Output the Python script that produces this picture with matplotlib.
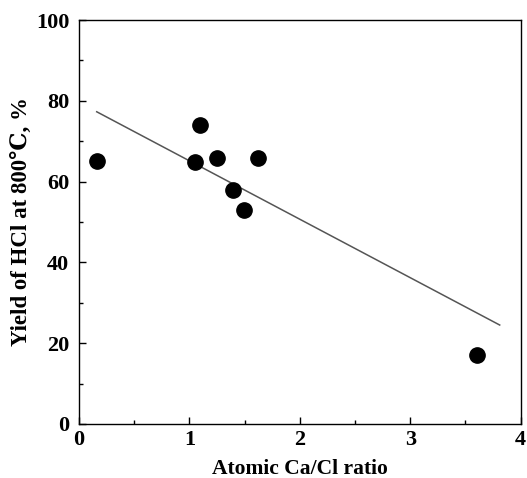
import numpy as np
import matplotlib.pyplot as plt

# data
ca_cl_ratio = [0.16, 1.05, 1.10, 1.25, 1.39, 1.49, 1.62, 3.60]
hcl_yield = [65.0, 64.8, 74.0, 65.9, 58.0, 53.0, 65.9, 17.0]

# fitted trend line end points
fit_x = [0.16, 3.81]
fit_y = [77.3, 24.5]

plt.rcParams['font.family'] = ['Liberation Serif', 'DejaVu Serif']
plt.rcParams['font.weight'] = 'bold'

fig = plt.figure(figsize=(5.27, 4.78), dpi=100)
ax = fig.add_axes([0.150, 0.113, 0.838, 0.845])

ax.plot(fit_x, fit_y, color='#555555', lw=1.1)
ax.plot(ca_cl_ratio, hcl_yield, 'o', color='black', markersize=11, zorder=3)

ax.set_xlim(0, 4)
ax.set_ylim(0, 100)
ax.set_xticks([0, 1, 2, 3, 4])
ax.set_xticks(np.arange(0, 4, 0.5), minor=True)
ax.set_yticks([0, 20, 40, 60, 80, 100])
ax.set_yticks(np.arange(0, 100, 10), minor=True)
ax.tick_params(which='both', direction='in', top=False, right=False,
               labelsize=16, width=1)
ax.tick_params(axis='y', pad=7)
ax.tick_params(axis='x', pad=4)
ax.tick_params(which='major', length=5)
ax.tick_params(which='minor', length=3)
for s in ax.spines.values():
    s.set_linewidth(1)

ax.set_xlabel('Atomic Ca/Cl ratio', fontsize=15.5, fontweight='bold', labelpad=7)
ax.set_ylabel('Yield of HCl at 800\u2103, %', fontsize=16.5, fontweight='bold', labelpad=3)

fig.savefig('out.png', dpi=100)
